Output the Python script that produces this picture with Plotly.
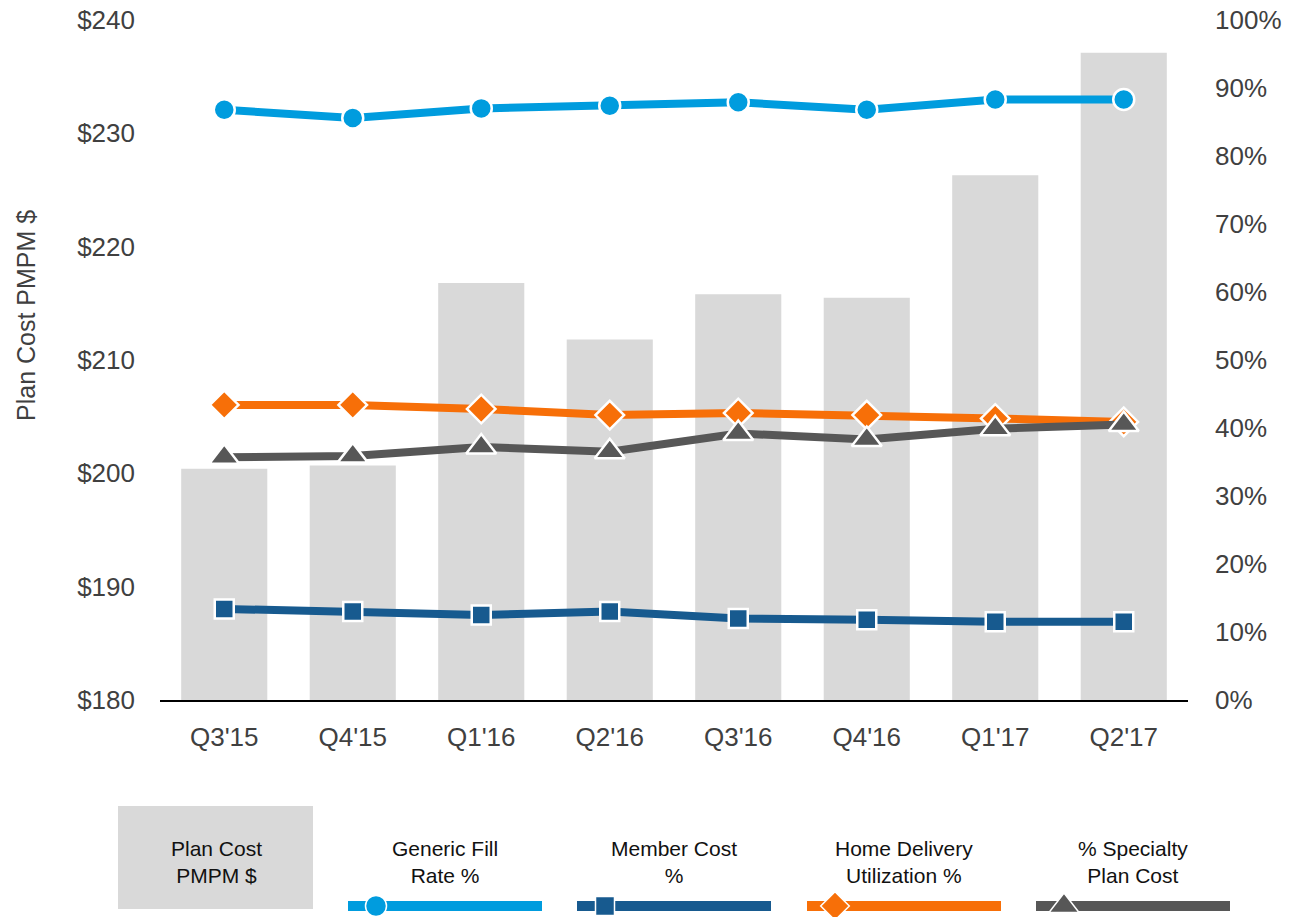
import plotly.graph_objects as go

# Quarterly categories
quarters = ["Q3'15", "Q4'15", "Q1'16", "Q2'16", "Q3'16", "Q4'16", "Q1'17", "Q2'17"]

# Plan cost per member per month, dollars (left axis)
plan_cost_pmpm = [200.4, 200.7, 216.8, 211.8, 215.8, 215.5, 226.3, 237.1]

# Rate series in percent (right axis)
generic_fill_rate = [86.8, 85.6, 87.0, 87.4, 87.9, 86.8, 88.3, 88.3]
member_cost_pct = [13.4, 13.0, 12.5, 13.0, 12.0, 11.8, 11.5, 11.5]
home_delivery_util = [43.4, 43.4, 42.8, 41.9, 42.2, 41.9, 41.4, 40.9]
specialty_plan_cost = [35.7, 35.9, 37.2, 36.5, 39.2, 38.3, 39.9, 40.5]

W, H = 1291, 917
FONT = "Liberation Sans"
TICK_COLOR = "#404040"
BAR_COLOR = "#D9D9D9"

line_series = [
    ("Generic Fill<br>Rate %", generic_fill_rate, "#009CDE", "circle", 21),
    ("Member Cost<br>%", member_cost_pct, "#175A8F", "square", 19),
    ("Home Delivery<br>Utilization %", home_delivery_util, "#F76F08", "diamond", 22),
    ("% Specialty<br>Plan Cost", specialty_plan_cost, "#575757", "triangle-up", 26),
]

fig = go.Figure()

fig.add_trace(go.Bar(
    x=quarters, y=plan_cost_pmpm, name="Plan Cost PMPM $",
    marker=dict(color=BAR_COLOR, line=dict(width=0)),
    width=0.67, xaxis="x", yaxis="y", showlegend=False,
))

for name, vals, color, symbol, size in line_series:
    fig.add_trace(go.Scatter(
        x=quarters, y=vals, name=name.replace("<br>", " "),
        mode="lines+markers",
        line=dict(color=color, width=8),
        marker=dict(symbol=symbol, size=size, color=color,
                    line=dict(color="white", width=2.5)),
        xaxis="x", yaxis="y2", showlegend=False, cliponaxis=False,
    ))

# Custom legend row under the chart, laid out in pixel units on a hidden axis pair
legend_centers = [445, 674, 904, 1133]
legend_half = 97
legend_y = 906
annotations = []
for (name, vals, color, symbol, size), cx in zip(line_series, legend_centers):
    fig.add_trace(go.Scatter(
        x=[cx - legend_half, cx + legend_half], y=[legend_y, legend_y],
        mode="lines", line=dict(color=color, width=10),
        xaxis="x3", yaxis="y3", showlegend=False, hoverinfo="skip",
    ))
    fig.add_trace(go.Scatter(
        x=[cx - legend_half + 28], y=[legend_y], mode="markers",
        marker=dict(symbol=symbol, size=size, color=color,
                    line=dict(color="white", width=1.5)),
        xaxis="x3", yaxis="y3", showlegend=False, hoverinfo="skip",
        cliponaxis=False,
    ))
    annotations.append(dict(
        text=name, x=cx / W, y=1 - 862 / H, xref="paper", yref="paper",
        xanchor="center", yanchor="middle", showarrow=False,
        font=dict(family=FONT, size=21, color="#111111"),
    ))

annotations.append(dict(
    text="Plan Cost<br>PMPM $", x=216 / W, y=1 - 862 / H, xref="paper", yref="paper",
    xanchor="center", yanchor="middle", showarrow=False,
    font=dict(family=FONT, size=21, color="#111111"),
))

annotations.append(dict(
    text="Plan Cost PMPM $", x=26 / W, y=1 - 316 / H, xref="paper", yref="paper",
    xanchor="center", yanchor="middle", showarrow=False, textangle=-90,
    font=dict(family=FONT, size=25, color=TICK_COLOR),
))

shapes = [dict(
    type="rect", xref="paper", yref="paper",
    x0=118 / W, x1=313 / W, y0=1 - 909 / H, y1=1 - 806 / H,
    fillcolor=BAR_COLOR, line=dict(width=0), layer="below",
)]

x_dom = [160 / W, 1188 / W]
y_dom = [1 - 700 / H, 1 - 20 / H]

fig.update_layout(
    width=W, height=H,
    margin=dict(l=0, r=0, t=0, b=0),
    paper_bgcolor="white", plot_bgcolor="rgba(0,0,0,0)",
    font=dict(family=FONT, color=TICK_COLOR),
    xaxis=dict(
        domain=x_dom, type="category", range=[-0.5, 7.5],
        showline=True, linecolor="#000000", linewidth=1.5,
        showgrid=False, zeroline=False, ticks="",
        tickfont=dict(size=26, color=TICK_COLOR), ticklabelstandoff=13,
        anchor="y", fixedrange=True,
    ),
    yaxis=dict(
        domain=y_dom, range=[180, 240], dtick=10, tickprefix="$",
        showline=False, showgrid=False, zeroline=False, ticks="",
        tickfont=dict(size=26, color=TICK_COLOR), ticklabelstandoff=24,
        anchor="x", automargin=False, fixedrange=True,
    ),
    yaxis2=dict(
        domain=y_dom, range=[0, 100], dtick=10, ticksuffix="%",
        overlaying="y", side="right", anchor="x",
        showline=False, showgrid=False, zeroline=False, ticks="",
        tickfont=dict(size=26, color=TICK_COLOR), ticklabelstandoff=26,
        automargin=False, fixedrange=True,
    ),
    xaxis3=dict(domain=[0, 1], range=[0, W], visible=False, anchor="y3", fixedrange=True),
    yaxis3=dict(domain=[0, 1], range=[H, 0], visible=False, anchor="x3", fixedrange=True),
    annotations=annotations,
    shapes=shapes,
    showlegend=False,
)

fig.write_html("out.html")
